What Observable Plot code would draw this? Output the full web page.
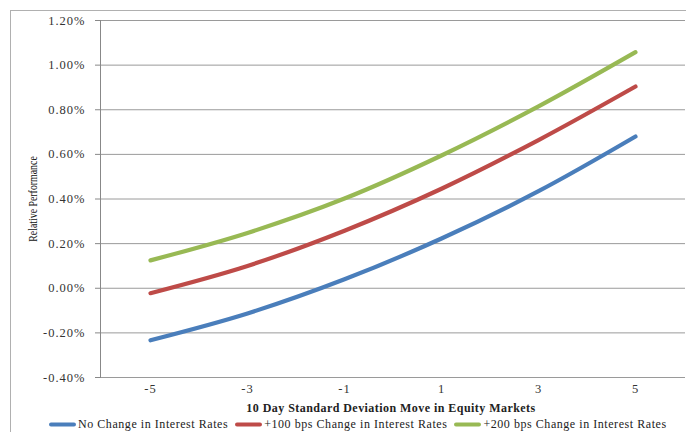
<!DOCTYPE html>
<html><head><meta charset="utf-8">
<script src="https://cdn.jsdelivr.net/npm/d3@7"></script>
<script src="https://cdn.jsdelivr.net/npm/@observablehq/plot@0.6"></script>
<style>
body{margin:0;background:#fff;}
#wrap{position:relative;width:686px;height:432px;overflow:hidden;font-family:"Liberation Serif","DejaVu Serif",serif;color:#333;}
#border{position:absolute;left:10px;top:10px;width:700px;height:500px;border-left:1.5px solid #b0b0b0;border-top:1.5px solid #b0b0b0;}
#chart{position:absolute;left:0;top:0;}
#chart svg text{letter-spacing:1px;}
#ytitle{position:absolute;left:33px;top:199px;transform:translate(-50%,-50%) rotate(-90deg) scaleX(0.82);font-size:12px;white-space:nowrap;color:#111;}
#xtitle{position:absolute;left:391px;top:408px;transform:translate(-50%,-50%);font-weight:bold;font-size:12px;letter-spacing:0.45px;white-space:nowrap;color:#222;}
#legend{position:absolute;top:424px;left:49px;transform:translateY(-50%);display:flex;align-items:center;font-size:12px;letter-spacing:0.55px;white-space:nowrap;color:#222;}
.item{display:flex;align-items:center;margin-right:7px;}
.sw{display:inline-block;width:27px;height:4px;border-radius:2px;margin-right:2px;}
</style></head>
<body><div id="wrap"><div id="border"></div><div id="chart"></div>
<div id="ytitle"></div><div id="xtitle"></div><div id="legend"></div></div>
<script>
const categories = [-5, -3, -1, 1, 3, 5];
const seriesNames = ["No Change in Interest Rates", "+100 bps Change in Interest Rates", "+200 bps Change in Interest Rates"];
const noChange = [-0.233, -0.113, 0.040, 0.223, 0.435, 0.680];
const plus100 = [-0.022, 0.100, 0.258, 0.446, 0.664, 0.904];
const plus200 = [0.125, 0.248, 0.402, 0.595, 0.815, 1.058];
const yTicks = [-0.4, -0.2, 0, 0.2, 0.4, 0.6, 0.8, 1.0, 1.2];
const colors = ["#4a7ebb", "#be4b48", "#98b954"];
const xTitle = "10 Day Standard Deviation Move in Equity Markets";
const yTitle = "Relative Performance";

const valuesBySeries = [noChange, plus100, plus200];
const data = seriesNames.flatMap((s, k) => categories.map((c, i) => ({x: c, y: valuesBySeries[k][i], s})));

const chart = Plot.plot({
  width: 686, height: 414,
  marginLeft: 100, marginRight: 1, marginTop: 20, marginBottom: 37,
  style: {fontFamily: '"Liberation Serif","DejaVu Serif",serif', fontSize: "12.5px", color: "#333", background: "transparent", overflow: "visible"},
  x: {type: "point", domain: categories, padding: 0.5},
  y: {domain: [-0.4, 1.2]},
  color: {domain: seriesNames, range: colors},
  marks: [
    Plot.gridY(yTicks, {stroke: "#9a9a9a", strokeOpacity: 1, strokeWidth: 1}),
    Plot.axisY(yTicks, {tickSize: 5, tickPadding: 10, tickFormat: d => d.toFixed(2) + "%", label: null, stroke: "#888"}),
    Plot.axisX(categories, {tickSize: 0, tickPadding: 7, label: null, tickFormat: d => String(d)}),
    Plot.frame({anchor: "left", stroke: "#888"}),
    Plot.line(data, {x: "x", y: "y", z: "s", stroke: "s", strokeWidth: 4.2, curve: "catmull-rom", strokeLinecap: "round", strokeLinejoin: "round"})
  ]
});
document.getElementById("chart").append(chart);
document.getElementById("xtitle").textContent = xTitle;
document.getElementById("ytitle").textContent = yTitle;
const leg = document.getElementById("legend");
seriesNames.forEach((s, i) => {
  const it = document.createElement("div"); it.className = "item";
  const sw = document.createElement("span"); sw.className = "sw"; sw.style.background = colors[i];
  const t = document.createElement("span"); t.textContent = s;
  it.append(sw, t); leg.append(it);
});
</script></body></html>
